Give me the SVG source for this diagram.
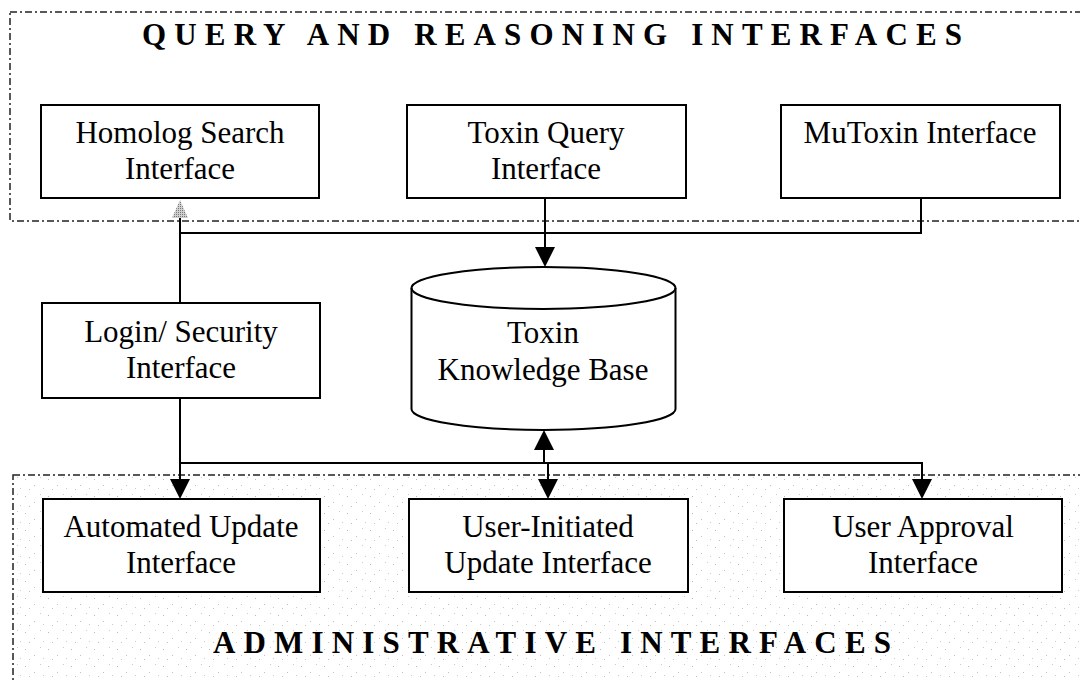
<svg xmlns="http://www.w3.org/2000/svg" width="1080" height="681" viewBox="0 0 1080 681">
  <style>
    .frame { fill: none; stroke: #222; stroke-width: 1.5; stroke-dasharray: 7 3 2 3; }
    .box { fill: #fff; stroke: #000; stroke-width: 2; }
    .label { font-family: "Liberation Serif", "Times New Roman", serif; font-size: 31px; fill: #000; text-anchor: middle; }
    .title { font-family: "Liberation Serif", "Times New Roman", serif; font-size: 31px; font-weight: bold; fill: #000; }
    .wire { fill: none; stroke: #000; stroke-width: 2; }
    .head { fill: #000; }
  </style>
  <defs>
    <pattern id="grain" width="23" height="17" patternUnits="userSpaceOnUse">
      <rect x="2" y="3" width="1" height="1" fill="#888"/>
      <rect x="11" y="9" width="1" height="1" fill="#999"/>
      <rect x="17" y="1" width="1" height="1" fill="#aaa"/>
      <rect x="6" y="13" width="1" height="1" fill="#999"/>
      <rect x="20" y="12" width="1" height="1" fill="#aaa"/>
    </pattern>
    <pattern id="hatch" width="2" height="2" patternUnits="userSpaceOnUse">
      <rect width="2" height="2" fill="#d0d0d0"/>
      <rect width="1" height="1" fill="#777"/>
    </pattern>
  </defs>

  <rect width="1080" height="681" fill="#fff"/>

  <!-- query and reasoning group frame -->
  <g id="query-frame">
    <rect class="frame" x="10" y="12" width="1080" height="209"/>
    <text class="title" x="142" y="45" textLength="820" lengthAdjust="spacing">QUERY AND REASONING INTERFACES</text>
  </g>

  <!-- administrative group frame -->
  <g id="admin-frame">
    <rect x="14" y="476" width="1066" height="205" fill="url(#grain)" opacity="0.6"/>
    <rect class="frame" x="13" y="475" width="1080" height="220"/>
    <text class="title" x="213" y="653" textLength="678" lengthAdjust="spacing">ADMINISTRATIVE INTERFACES</text>
  </g>

  <!-- connectors -->
  <g id="connectors">
    <!-- query side bus -->
    <path class="wire" d="M180 218 V303"/>
    <path class="wire" d="M180 233 H921 V198"/>
    <polygon points="180,200 172,218 188,218" fill="url(#hatch)"/>
    <path class="wire" d="M545 198 V248"/>
    <polygon class="head" points="535,247 555,247 545,267"/>
    <!-- administrative side bus -->
    <path class="wire" d="M180 398 V480"/>
    <path class="wire" d="M180 463 H922 V480"/>
    <path class="wire" d="M544 449 V463"/>
    <path class="wire" d="M548 463 V480"/>
    <polygon class="head" points="170,479 190,479 180,499"/>
    <polygon class="head" points="538,479 558,479 548,499"/>
    <polygon class="head" points="912,479 932,479 922,499"/>
    <polygon class="head" points="534,450 554,450 544,430"/>
  </g>

  <g id="homolog-search">
    <rect class="box" x="41" y="105" width="278" height="93"/>
    <text class="label" x="180" y="143">Homolog Search</text>
    <text class="label" x="180" y="179">Interface</text>
  </g>

  <g id="toxin-query">
    <rect class="box" x="407" y="105" width="279" height="93"/>
    <text class="label" x="546" y="143">Toxin Query</text>
    <text class="label" x="546" y="179">Interface</text>
  </g>

  <g id="mutoxin">
    <rect class="box" x="781" y="105" width="279" height="93"/>
    <text class="label" x="920" y="143">MuToxin Interface</text>
  </g>

  <g id="login-security">
    <rect class="box" x="42" y="303" width="278" height="95"/>
    <text class="label" x="181" y="342">Login/ Security</text>
    <text class="label" x="181" y="378">Interface</text>
  </g>

  <g id="knowledge-base">
    <path class="box" d="M411.5 288 A132 21 0 0 1 675.5 288 V409 A132 21 0 0 1 411.5 409 Z"/>
    <path class="wire" d="M411.5 288 A132 21 0 0 0 675.5 288"/>
    <text class="label" x="543" y="343">Toxin</text>
    <text class="label" x="543" y="380">Knowledge Base</text>
  </g>

  <g id="automated-update">
    <rect class="box" x="43" y="499" width="277" height="93"/>
    <text class="label" x="181" y="537">Automated Update</text>
    <text class="label" x="181" y="573">Interface</text>
  </g>

  <g id="user-initiated-update">
    <rect class="box" x="409" y="499" width="279" height="93"/>
    <text class="label" x="548" y="537">User-Initiated</text>
    <text class="label" x="548" y="573">Update Interface</text>
  </g>

  <g id="user-approval">
    <rect class="box" x="784" y="499" width="278" height="93"/>
    <text class="label" x="923" y="537">User Approval</text>
    <text class="label" x="923" y="573">Interface</text>
  </g>
</svg>
